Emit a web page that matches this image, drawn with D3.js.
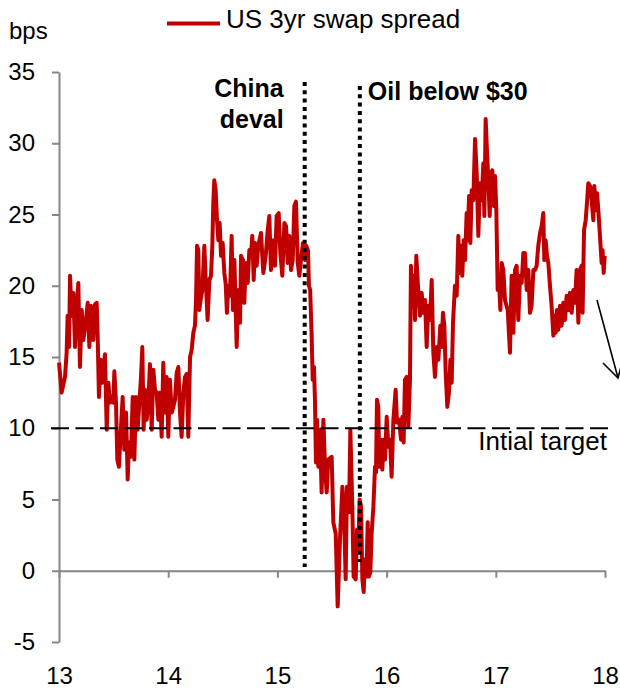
<!DOCTYPE html>
<html>
<head>
<meta charset="utf-8">
<script src="https://cdn.jsdelivr.net/npm/d3@7"></script>
<style>
body { margin: 0; background: #fff; }
text { font-family: Arial, "Liberation Sans", sans-serif; }
</style>
</head>
<body>
<div id="chart"></div>
<script>
var width = 620;
var height = 690;

var red = "#c00000";
var grey = "#868686";

// decimal years
var years = [
  2013.000, 2013.024, 2013.055, 2013.070, 2013.079, 2013.092, 2013.101, 2013.116, 2013.131, 2013.147,
  2013.162, 2013.177, 2013.192, 2013.208, 2013.223, 2013.244, 2013.263, 2013.278, 2013.293, 2013.314,
  2013.330, 2013.345, 2013.354, 2013.366, 2013.382, 2013.397, 2013.421, 2013.437, 2013.452, 2013.467,
  2013.482, 2013.498, 2013.507, 2013.522, 2013.534, 2013.549, 2013.565, 2013.583, 2013.598, 2013.614,
  2013.629, 2013.641, 2013.659, 2013.675, 2013.690, 2013.705, 2013.720, 2013.736, 2013.751, 2013.763,
  2013.775, 2013.788, 2013.803, 2013.818, 2013.833, 2013.849, 2013.864, 2013.879,
  2013.894, 2013.910, 2013.925, 2013.940, 2013.955, 2013.971, 2013.986, 2014.001, 2014.016, 2014.032,
  2014.047, 2014.062, 2014.078, 2014.093, 2014.108, 2014.123, 2014.139, 2014.154, 2014.169, 2014.184,
  2014.200, 2014.215, 2014.230, 2014.245, 2014.255, 2014.264, 2014.276, 2014.285, 2014.297, 2014.313,
  2014.331, 2014.346, 2014.361, 2014.377, 2014.392, 2014.404, 2014.413, 2014.422, 2014.435, 2014.447,
  2014.459, 2014.471, 2014.484, 2014.499, 2014.514, 2014.526, 2014.538, 2014.551, 2014.566, 2014.581,
  2014.593, 2014.606,
  2014.627, 2014.642, 2014.658, 2014.667, 2014.685, 2014.697, 2014.709, 2014.728, 2014.743, 2014.758,
  2014.770, 2014.783, 2014.795, 2014.810, 2014.825, 2014.850, 2014.871, 2014.893, 2014.911, 2014.926,
  2014.941, 2014.963, 2014.978, 2014.993, 2015.012, 2015.027, 2015.045, 2015.064, 2015.079, 2015.094,
  2015.109, 2015.125, 2015.140, 2015.155, 2015.170, 2015.186, 2015.201, 2015.216, 2015.234, 2015.253,
  2015.265, 2015.280, 2015.289, 2015.300, 2015.313, 2015.323, 2015.335, 2015.344, 2015.353, 2015.363,
  2015.375, 2015.390, 2015.405, 2015.421, 2015.436,
  2015.451, 2015.466, 2015.497, 2015.512, 2015.534, 2015.552, 2015.573, 2015.595, 2015.610, 2015.625,
  2015.637, 2015.656, 2015.668, 2015.686, 2015.698, 2015.717, 2015.729, 2015.741, 2015.753, 2015.766,
  2015.778, 2015.790, 2015.802, 2015.815, 2015.827, 2015.839, 2015.851, 2015.863, 2015.879, 2015.894,
  2015.903, 2015.912, 2015.924, 2015.933, 2015.949, 2015.961, 2015.973, 2015.985, 2016.001, 2016.016,
  2016.031, 2016.046, 2016.062, 2016.083, 2016.095, 2016.114, 2016.132, 2016.144, 2016.156, 2016.168,
  2016.184, 2016.199, 2016.214, 2016.223, 2016.236, 2016.248, 2016.260, 2016.272,
  2016.291, 2016.306, 2016.321, 2016.336, 2016.352, 2016.367, 2016.382, 2016.397, 2016.413, 2016.428,
  2016.443, 2016.458, 2016.474, 2016.492, 2016.504, 2016.516, 2016.529, 2016.541, 2016.556, 2016.571,
  2016.584, 2016.596, 2016.608, 2016.626, 2016.642, 2016.657, 2016.669, 2016.681, 2016.693, 2016.706,
  2016.718, 2016.733, 2016.742, 2016.755, 2016.767, 2016.779, 2016.794, 2016.810, 2016.825, 2016.840,
  2016.855, 2016.871, 2016.886, 2016.895, 2016.907, 2016.919, 2016.932, 2016.944, 2016.956, 2016.968,
  2016.981, 2016.993, 2017.005, 2017.017, 2017.029, 2017.042, 2017.054, 2017.069, 2017.084,
  2017.109, 2017.130, 2017.145, 2017.161, 2017.176, 2017.191, 2017.206, 2017.222, 2017.237, 2017.252,
  2017.267, 2017.283, 2017.298, 2017.313, 2017.328, 2017.344, 2017.359, 2017.374, 2017.389, 2017.405,
  2017.420, 2017.435, 2017.444, 2017.456, 2017.469, 2017.481, 2017.496, 2017.511, 2017.527, 2017.536,
  2017.548, 2017.560, 2017.572, 2017.588, 2017.603, 2017.618, 2017.634, 2017.649, 2017.664, 2017.679,
  2017.695, 2017.710, 2017.725, 2017.740, 2017.756, 2017.771, 2017.786, 2017.795, 2017.808, 2017.823,
  2017.835, 2017.847, 2017.863, 2017.878, 2017.893, 2017.902, 2017.917, 2017.927, 2017.939, 2017.954,
  2017.969, 2017.978, 2017.988, 2017.997
];

// US 3yr swap spread, bps
var spread = [
  14.6, 12.5, 13.6, 15.3, 17.9, 15.7, 20.7, 17.9, 19.5, 15.7,
  18.6, 20.2, 14.3, 18.3, 16.2, 17.4, 18.8, 15.7, 18.6, 16.2,
  18.7, 18.8, 16.5, 12.2, 14.8, 13.2, 15.2, 9.9, 13.2, 11.8,
  12.2, 11.8, 14.0, 11.8, 7.8, 7.3, 9.7, 12.2, 8.5, 11.1,
  6.4, 9.0, 8.0, 12.2, 7.8, 12.2, 9.9, 11.8, 13.6, 15.7,
  9.9, 12.7, 10.6, 11.8, 14.5, 9.9, 14.1, 12.7,
  12.5, 10.6, 12.5, 9.4, 14.6, 11.1, 13.6, 9.4, 13.4, 11.1,
  11.5, 12.0, 13.9, 14.3, 11.1, 9.4, 12.5, 13.6, 13.8, 9.4,
  15.0, 15.5, 16.7, 17.2, 19.0, 22.8, 22.5, 18.3, 19.0, 19.7,
  22.8, 20.0, 17.6, 20.4, 20.7, 22.8, 25.8, 27.4, 26.7, 24.6,
  23.2, 24.4, 22.1, 23.0, 20.9, 20.2, 18.1, 20.0, 19.3, 23.5,
  18.3, 21.8,
  15.7, 19.7, 17.4, 22.1, 21.8, 18.8, 21.6, 20.2, 22.5, 22.1,
  23.5, 20.4, 23.0, 21.4, 22.8, 23.7, 20.9, 22.1, 23.9, 24.9,
  21.1, 23.2, 21.4, 24.9, 25.1, 22.3, 20.7, 24.4, 24.2, 21.6,
  23.5, 21.1, 21.8, 25.6, 25.9, 21.6, 20.7, 21.8, 23.0, 21.8,
  22.8, 22.5, 20.0, 19.7, 16.7, 13.4, 14.3, 12.0, 7.6, 10.6,
  7.3, 9.9, 5.5, 10.6, 7.3,
  5.5, 7.8, 8.0, 3.4, 2.6, -2.5, 2.2, 5.9, 4.1, -0.6,
  5.9, 4.1, 9.9, 4.5, -0.4, -0.6, 2.9, 1.5, 5.0, 4.5,
  -0.6, -1.5, 0.8, -0.4, 3.4, -0.4, -0.1, 2.6, 4.5, 7.3,
  6.9, 12.0, 11.5, 7.3, 9.2, 7.1, 9.2, 7.8, 10.8, 8.7,
  9.2, 6.6, 10.6, 12.7, 10.4, 10.6, 9.2, 10.8, 9.0, 13.4,
  13.6, 10.1, 13.4, 21.4, 18.6, 20.7, 17.6, 22.1,
  19.5, 17.9, 19.5, 18.1, 19.0, 15.7, 18.6, 17.6, 20.4, 15.3,
  13.6, 15.7, 14.8, 17.2, 15.7, 18.1, 17.2, 13.9, 11.5, 12.5,
  14.8, 13.2, 17.4, 20.0, 19.3, 23.5, 20.9, 22.8, 20.7, 23.2,
  21.8, 25.1, 23.2, 26.3, 23.0, 26.7, 26.0, 30.3, 27.9, 23.5,
  27.2, 26.0, 28.6, 24.9, 31.7, 29.5, 27.4, 24.9, 27.9, 28.1,
  25.6, 27.7, 25.3, 19.7, 20.4, 18.3, 21.6, 21.1, 19.0,
  18.3, 15.3, 20.7, 16.7, 21.1, 21.4, 17.6, 20.7, 20.2, 22.3,
  22.3, 19.7, 21.1, 18.1, 18.6, 21.1, 21.1, 21.4, 22.8, 23.7,
  24.2, 25.1, 21.8, 23.2, 22.1, 21.6, 20.0, 18.6, 16.5, 17.9,
  16.7, 18.3, 16.9, 18.6, 17.2, 18.8, 17.6, 19.3, 18.3, 19.5,
  18.1, 19.7, 18.8, 21.1, 17.4, 21.1, 21.4, 18.1, 23.9, 24.6,
  25.8, 27.2, 27.0, 26.0, 24.6, 27.0, 25.3, 26.5, 25.3, 23.5,
  21.6, 22.5, 20.9, 22.1
];

var yTicks = [-5, 0, 5, 10, 15, 20, 25, 30, 35];
var xTicks = [2013, 2014, 2015, 2016, 2017, 2018];
var xLabels = ["13", "14", "15", "16", "17", "18"];

var target = 10;
var events = [
  {"year": 2015.25, "lines": ["China", "deval"]},
  {"year": 2015.755, "lines": ["Oil below $30"]}
];

var svg = d3.select("#chart").append("svg")
  .attr("width", width)
  .attr("height", height);

var x = d3.scaleLinear().domain([2013, 2018]).range([59, 605]);
var y = d3.scaleLinear().domain([-5, 35]).range([642, 72]);

// y axis
var yAxis = svg.append("g")
  .attr("transform", "translate(" + x(2013) + ",0)")
  .call(d3.axisLeft(y)
    .tickValues(yTicks)
    .tickSize(7)
    .tickSizeOuter(0)
    .tickPadding(17)
    .tickFormat(function(d) { return String(d); }));

// x axis sits on zero, labels go to the bottom
var xAxis = svg.append("g")
  .attr("transform", "translate(0," + y(0) + ")")
  .call(d3.axisBottom(x)
    .tickValues(xTicks)
    .tickSize(7)
    .tickSizeOuter(0)
    .tickPadding(y(-5) - y(0) + 18)
    .tickFormat(function(d, i) { return xLabels[i]; }));

svg.selectAll(".domain, .tick line")
  .attr("stroke", grey)
  .attr("stroke-width", 2);

svg.selectAll(".tick text")
  .attr("fill", "#000")
  .style("font-size", "24px")
  .style("font-family", "Arial, 'Liberation Sans', sans-serif");

// the series
var line = d3.line()
  .x(function(d, i) { return x(years[i]); })
  .y(function(d) { return y(d); });

svg.append("path")
  .datum(spread)
  .attr("fill", "none")
  .attr("stroke", red)
  .attr("stroke-width", 4)
  .attr("stroke-linejoin", "round")
  .attr("d", line);

// initial target
svg.append("line")
  .attr("x1", x(2013) - 8)
  .attr("x2", 611)
  .attr("y1", y(target))
  .attr("y2", y(target))
  .attr("stroke", "#000")
  .attr("stroke-width", 2)
  .attr("stroke-dasharray", "18,6.5");

svg.append("text")
  .attr("x", 607)
  .attr("y", y(target) + 22)
  .attr("text-anchor", "end")
  .style("font-size", "26px")
  .text("Intial target");

// event markers
svg.selectAll(".event")
  .data(events)
  .enter().append("line")
    .attr("class", "event")
    .attr("x1", function(d) { return x(d.year); })
    .attr("x2", function(d) { return x(d.year); })
    .attr("y1", function(d, i) { return i == 0 ? 82 : 86; })
    .attr("y2", function(d, i) { return i == 0 ? 567 : 562; })
    .attr("stroke", "#000")
    .attr("stroke-width", 4)
    .attr("stroke-dasharray", "4,4.3");

svg.append("text")
  .attr("x", x(events[0].year) - 21)
  .attr("y", 97)
  .attr("text-anchor", "end")
  .style("font-size", "25px")
  .style("font-weight", "bold")
  .selectAll("tspan")
  .data(events[0].lines)
  .enter().append("tspan")
    .attr("x", x(events[0].year) - 21)
    .attr("dy", function(d, i) { return i == 0 ? 0 : 31; })
    .text(function(d) { return d; });

svg.append("text")
  .attr("x", x(events[1].year) + 8)
  .attr("y", 100)
  .style("font-size", "25px")
  .style("font-weight", "bold")
  .text(events[1].lines[0]);

// arrow pointing lower
svg.append("line")
  .attr("x1", 597).attr("y1", 300)
  .attr("x2", 618).attr("y2", 378)
  .attr("stroke", "#000")
  .attr("stroke-width", 1.6);

svg.append("polyline")
  .attr("points", "603,363 618,378 623.4,357.7")
  .attr("fill", "none")
  .attr("stroke", "#000")
  .attr("stroke-width", 1.6);

// legend and unit
svg.append("line")
  .attr("x1", 167).attr("x2", 220)
  .attr("y1", 23.5).attr("y2", 23.5)
  .attr("stroke", red)
  .attr("stroke-width", 4);

svg.append("text")
  .attr("x", 226)
  .attr("y", 28)
  .style("font-size", "26px")
  .text("US 3yr swap spread");

svg.append("text")
  .attr("x", 9)
  .attr("y", 39)
  .style("font-size", "24px")
  .text("bps");
</script>
</body>
</html>
